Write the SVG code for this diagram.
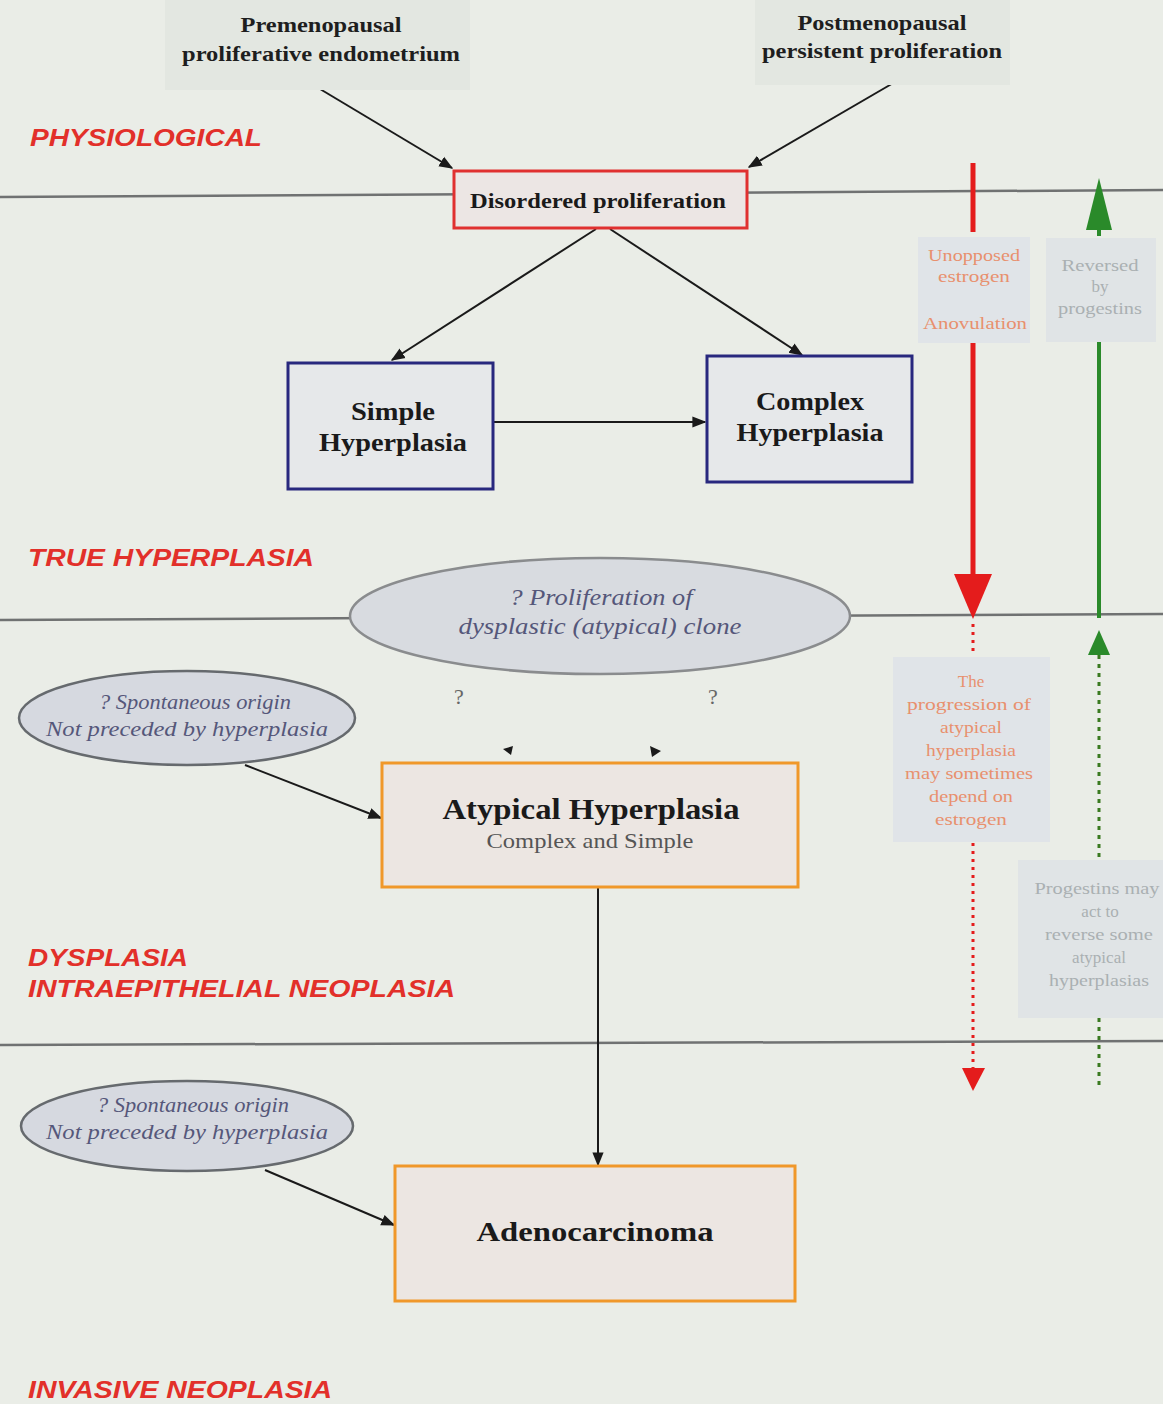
<svg xmlns="http://www.w3.org/2000/svg" width="1163" height="1404" viewBox="0 0 1163 1404">
<defs>
<style>
.zone{font-family:"Liberation Sans",Arial,sans-serif;font-weight:bold;font-style:italic;font-size:24px;fill:#e2302a}
.top{font-family:"Liberation Serif","Times New Roman",serif;font-weight:bold;font-size:22px;fill:#1e1e1e;text-anchor:middle}
.bx{font-family:"Liberation Serif","Times New Roman",serif;font-weight:bold;fill:#1a1a1a;text-anchor:middle}
.ell{font-family:"Liberation Serif","Times New Roman",serif;font-style:italic;fill:#55577a;text-anchor:middle}
.note{font-family:"Liberation Serif","Times New Roman",serif;font-size:17px;text-anchor:middle}
.sep{stroke:#707272;stroke-width:2.5;fill:none}
.conn{stroke:#1a1a1a;stroke-width:2;fill:none}
</style>
<marker id="ahb" viewBox="0 0 10 10" refX="9" refY="5" markerWidth="14" markerHeight="14" orient="auto" markerUnits="userSpaceOnUse">
<path d="M0,1 L10,5 L0,9 z" fill="#1a1a1a"/>
</marker>
</defs>
<rect width="1163" height="1404" fill="#eaede7"/>

<g id="separators">
<line class="sep" x1="0" y1="197" x2="1163" y2="190"/>
<line class="sep" x1="0" y1="620" x2="1163" y2="614"/>
<line class="sep" x1="0" y1="1045" x2="1163" y2="1041"/>
</g>

<g id="zones">
<text class="zone" x="30" y="146" textLength="232" lengthAdjust="spacingAndGlyphs">PHYSIOLOGICAL</text>
<text class="zone" x="28" y="566" textLength="286" lengthAdjust="spacingAndGlyphs">TRUE HYPERPLASIA</text>
<text class="zone" x="28" y="966" textLength="160" lengthAdjust="spacingAndGlyphs">DYSPLASIA</text>
<text class="zone" x="28" y="997" textLength="427" lengthAdjust="spacingAndGlyphs">INTRAEPITHELIAL NEOPLASIA</text>
<text class="zone" x="28" y="1398" textLength="304" lengthAdjust="spacingAndGlyphs">INVASIVE NEOPLASIA</text>
</g>

<g id="connectors">
<line class="conn" x1="310" y1="83" x2="452" y2="168" marker-end="url(#ahb)"/>
<line class="conn" x1="895" y1="82" x2="749" y2="167" marker-end="url(#ahb)"/>
<line class="conn" x1="596" y1="229" x2="392" y2="360" marker-end="url(#ahb)"/>
<line class="conn" x1="610" y1="229" x2="802" y2="355" marker-end="url(#ahb)"/>
<line class="conn" x1="493" y1="422" x2="705" y2="422" marker-end="url(#ahb)"/>
<line class="conn" x1="245" y1="765" x2="381" y2="818" marker-end="url(#ahb)"/>
<line class="conn" x1="598" y1="887" x2="598" y2="1165" marker-end="url(#ahb)"/>
<line class="conn" x1="265" y1="1170" x2="394" y2="1225" marker-end="url(#ahb)"/>
<path d="M503,749 L513,746 L511,755 z" fill="#1a1a1a"/>
<path d="M650,746 L661,751 L652,757 z" fill="#1a1a1a"/>
<line x1="973" y1="163" x2="973" y2="232" stroke="#e41c1c" stroke-width="5"/>
<line x1="973" y1="342" x2="973" y2="578" stroke="#e41c1c" stroke-width="5"/>
<path d="M954,574 L992,574 L973,619 z" fill="#e41c1c"/>
<line x1="973" y1="624" x2="973" y2="655" stroke="#e41c1c" stroke-width="3" stroke-dasharray="3,5"/>
<line x1="973" y1="843" x2="973" y2="1068" stroke="#e41c1c" stroke-width="3" stroke-dasharray="3,5"/>
<path d="M962,1068 L985,1068 L973,1091 z" fill="#e41c1c"/>
<path d="M1086,230 L1099,178 L1112,230 z" fill="#2a8a2a"/>
<line x1="1099" y1="226" x2="1099" y2="236" stroke="#2a8a2a" stroke-width="4"/>
<line x1="1099" y1="340" x2="1099" y2="618" stroke="#2a8a2a" stroke-width="4"/>
<path d="M1088,655 L1099,630 L1110,655 z" fill="#2a8a2a"/>
<line x1="1099" y1="655" x2="1099" y2="858" stroke="#3a7a20" stroke-width="3" stroke-dasharray="4,5"/>
<line x1="1099" y1="1018" x2="1099" y2="1088" stroke="#3a7a20" stroke-width="3" stroke-dasharray="4,5"/>
</g>

<g id="premenopausal">
<rect x="165" y="0" width="305" height="90" fill="#e3e7e1"/>
<text class="top" x="321" y="32" textLength="161" lengthAdjust="spacingAndGlyphs">Premenopausal</text>
<text class="top" x="321" y="61" textLength="278" lengthAdjust="spacingAndGlyphs">proliferative endometrium</text>
</g>
<g id="postmenopausal">
<rect x="755" y="0" width="255" height="85" fill="#e3e7e1"/>
<text class="top" x="882" y="30" textLength="169" lengthAdjust="spacingAndGlyphs">Postmenopausal</text>
<text class="top" x="882" y="58" textLength="240" lengthAdjust="spacingAndGlyphs">persistent proliferation</text>
</g>

<g id="disordered">
<rect x="454" y="171" width="293" height="57" fill="#ece6e4" stroke="#e03030" stroke-width="3"/>
<text class="bx" x="598" y="208" font-size="21" textLength="256" lengthAdjust="spacingAndGlyphs">Disordered proliferation</text>
</g>

<g id="simple">
<rect x="288" y="363" width="205" height="126" fill="#e6e8ea" stroke="#28287e" stroke-width="3"/>
<text class="bx" x="393" y="420" font-size="26" textLength="84" lengthAdjust="spacingAndGlyphs">Simple</text>
<text class="bx" x="393" y="451" font-size="26" textLength="148" lengthAdjust="spacingAndGlyphs">Hyperplasia</text>
</g>

<g id="complex">
<rect x="707" y="356" width="205" height="126" fill="#e6e8ea" stroke="#28287e" stroke-width="3"/>
<text class="bx" x="810" y="410" font-size="26" textLength="108" lengthAdjust="spacingAndGlyphs">Complex</text>
<text class="bx" x="810" y="441" font-size="26" textLength="147" lengthAdjust="spacingAndGlyphs">Hyperplasia</text>
</g>

<g id="clone">
<ellipse cx="600" cy="616" rx="250" ry="58" fill="#d8dbe0" stroke="#8a8c8e" stroke-width="2.5"/>
<text class="ell" x="601" y="605" font-size="24" textLength="183" lengthAdjust="spacingAndGlyphs">? Proliferation of</text>
<text class="ell" x="600" y="634" font-size="24" textLength="283" lengthAdjust="spacingAndGlyphs">dysplastic (atypical) clone</text>
</g>

<g id="qmarks">
<text x="459" y="704" font-family="Liberation Serif,serif" font-size="22" fill="#666" text-anchor="middle">?</text>
<text x="713" y="704" font-family="Liberation Serif,serif" font-size="22" fill="#666" text-anchor="middle">?</text>
</g>

<g id="spontaneous1">
<ellipse cx="187" cy="718" rx="168" ry="47" fill="#d6d9e0" stroke="#666a6e" stroke-width="2.5"/>
<text class="ell" x="195" y="709" font-size="21" textLength="192" lengthAdjust="spacingAndGlyphs">? Spontaneous origin</text>
<text class="ell" x="187" y="736" font-size="21" textLength="282" lengthAdjust="spacingAndGlyphs">Not preceded by hyperplasia</text>
</g>

<g id="atypical">
<rect x="382" y="763" width="416" height="124" fill="#ece6e2" stroke="#f0982a" stroke-width="3"/>
<text class="bx" x="591" y="819" font-size="30" textLength="297" lengthAdjust="spacingAndGlyphs">Atypical Hyperplasia</text>
<text x="590" y="848" font-family="Liberation Serif,serif" font-size="21" fill="#555" text-anchor="middle" textLength="207" lengthAdjust="spacingAndGlyphs">Complex and Simple</text>
</g>

<g id="spontaneous2">
<ellipse cx="187" cy="1126" rx="166" ry="45" fill="#d6d9e0" stroke="#666a6e" stroke-width="2.5"/>
<text class="ell" x="193" y="1112" font-size="21" textLength="192" lengthAdjust="spacingAndGlyphs">? Spontaneous origin</text>
<text class="ell" x="187" y="1139" font-size="21" textLength="282" lengthAdjust="spacingAndGlyphs">Not preceded by hyperplasia</text>
</g>

<g id="adenocarcinoma">
<rect x="395" y="1166" width="400" height="135" fill="#ece6e2" stroke="#f0982a" stroke-width="3"/>
<text class="bx" x="595" y="1241" font-size="27" textLength="237" lengthAdjust="spacingAndGlyphs">Adenocarcinoma</text>
</g>

<g id="note-estrogen">
<rect x="918" y="237" width="112" height="106" fill="#e0e4e8"/>
<text class="note" x="974" y="261" fill="#e8906e" textLength="92" lengthAdjust="spacingAndGlyphs">Unopposed</text>
<text class="note" x="974" y="282" fill="#e8906e" textLength="72" lengthAdjust="spacingAndGlyphs">estrogen</text>
<text class="note" x="975" y="329" fill="#e8906e" textLength="104" lengthAdjust="spacingAndGlyphs">Anovulation</text>
</g>

<g id="note-progestin">
<rect x="1046" y="238" width="110" height="104" fill="#e0e4e6"/>
<text class="note" x="1100" y="271" fill="#aab0b2" textLength="77" lengthAdjust="spacingAndGlyphs">Reversed</text>
<text class="note" x="1100" y="292" fill="#aab0b2">by</text>
<text class="note" x="1100" y="314" fill="#aab0b2" textLength="84" lengthAdjust="spacingAndGlyphs">progestins</text>
</g>

<g id="note-progression">
<rect x="893" y="657" width="157" height="185" fill="#e0e4e8"/>
<text class="note" x="971" y="687" fill="#e8906e">The</text>
<text class="note" x="969" y="710" fill="#e8906e" textLength="124" lengthAdjust="spacingAndGlyphs">progression of</text>
<text class="note" x="971" y="733" fill="#e8906e" textLength="62" lengthAdjust="spacingAndGlyphs">atypical</text>
<text class="note" x="971" y="756" fill="#e8906e" textLength="90" lengthAdjust="spacingAndGlyphs">hyperplasia</text>
<text class="note" x="969" y="779" fill="#e8906e" textLength="128" lengthAdjust="spacingAndGlyphs">may sometimes</text>
<text class="note" x="971" y="802" fill="#e8906e" textLength="84" lengthAdjust="spacingAndGlyphs">depend on</text>
<text class="note" x="971" y="825" fill="#e8906e" textLength="72" lengthAdjust="spacingAndGlyphs">estrogen</text>
</g>

<g id="note-reverse">
<rect x="1018" y="860" width="145" height="158" fill="#e0e4e6"/>
<text class="note" x="1097" y="894" fill="#aab0b2" textLength="125" lengthAdjust="spacingAndGlyphs">Progestins may</text>
<text class="note" x="1100" y="917" fill="#aab0b2">act to</text>
<text class="note" x="1099" y="940" fill="#aab0b2" textLength="108" lengthAdjust="spacingAndGlyphs">reverse some</text>
<text class="note" x="1099" y="963" fill="#aab0b2">atypical</text>
<text class="note" x="1099" y="986" fill="#aab0b2" textLength="100" lengthAdjust="spacingAndGlyphs">hyperplasias</text>
</g>
</svg>
